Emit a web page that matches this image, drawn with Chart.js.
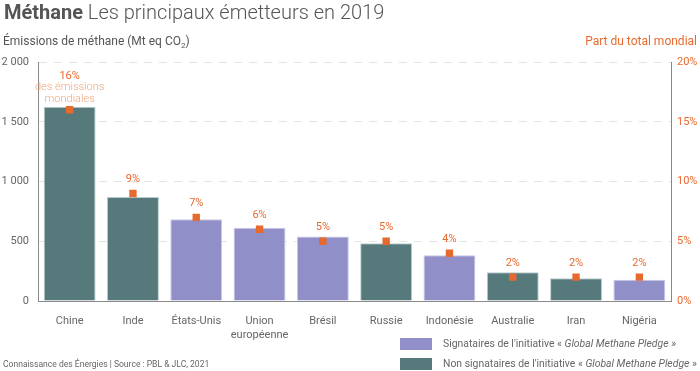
<!DOCTYPE html>
<html lang="fr">
<head>
<meta charset="utf-8">
<script src="https://cdn.jsdelivr.net/npm/chart.js@4.4.0/dist/chart.umd.min.js"></script>
<style>
  html, body { margin: 0; padding: 0; background: #fff; }
  body { font-family: Roboto, 'Noto Sans', sans-serif; color: #555; }
  #cadre { position: relative; width: 700px; height: 371px; overflow: hidden; }
  #graphique { position: absolute; left: 0; top: 0; }
  .texte { position: absolute; white-space: nowrap; }
  #titre { left: 4px; top: 0px; font-size: 20px; font-weight: 300; color: #555; }
  #titre b { font-weight: 700; }
  #titreY { left: 3px; top: 34px; font-size: 12px; color: #555; }
  #titreY2 { right: 3px; top: 34px; font-size: 12px; color: #e8692d; }
  #source { left: 3px; top: 358px; font-size: 9.5px; color: #666; transform: scaleX(0.9); transform-origin: left top; }
  .legende { position: absolute; left: 400px; font-size: 11px; color: #666; white-space: nowrap; }
  .legende span.carre { position: absolute; left: 0; top: 1px; width: 32px; height: 12px; }
  .legende span.lib { position: absolute; left: 43px; top: 0; transform: scaleX(0.945); transform-origin: left top; }
</style>
</head>
<body>
<div id="cadre">
  <canvas id="graphique" width="700" height="371"></canvas>
  <div id="titre" class="texte"><b>Méthane</b> Les principaux émetteurs en 2019</div>
  <div id="titreY" class="texte">Émissions de méthane (Mt eq CO<sub style="font-size:8px">2</sub>)</div>
  <div id="titreY2" class="texte">Part du total mondial</div>
  <div id="source" class="texte">Connaissance des Énergies | Source : PBL &amp; JLC, 2021</div>
  <div class="legende" style="top:337px"><span class="carre" style="background:#908fc7"></span><span class="lib">Signataires de l'initiative « <i>Global Methane Pledge</i> »</span></div>
  <div class="legende" style="top:357px"><span class="carre" style="background:#567a7c"></span><span class="lib">Non signataires de l'initiative « <i>Global Methane Pledge</i> »</span></div>
</div>
<script>
// Données
const pays = ['Chine', 'Inde', 'États-Unis', ['Union', 'européenne'], 'Brésil', 'Russie', 'Indonésie', 'Australie', 'Iran', 'Nigéria'];
const emissions = [1625, 870, 685, 612, 540, 484, 383, 241, 191, 178];
const partMondiale = [16, 9, 7, 6, 5, 5, 4, 2, 2, 2];
const signataire = [false, false, true, true, true, false, true, false, false, true];
const etiquetasY = ['0', '500', '1 000', '1 500', '2 000'];
const etiquetasY2 = ['0%', '5%', '10%', '15%', '20%'];

// Couleurs
const couleurSignataire = '#908fc7';
const couleurNonSignataire = '#567a7c';
const orange = '#e8692d';

const couleursBarres = signataire.map(s => s ? couleurSignataire : couleurNonSignataire);
const bordsBarres = signataire.map(s => s ? '#c9c8ea' : '#b9cccd');

// Etiquettes de pourcentage au-dessus des barres
const etiquettesPct = {
  id: 'etiquettesPct',
  afterDatasetsDraw(chart) {
    const ctx = chart.ctx;
    const barres = chart.getDatasetMeta(1).data;
    const points = chart.getDatasetMeta(0).data;
    ctx.save();
    ctx.textAlign = 'center';
    ctx.textBaseline = 'middle';
    barres.forEach((barre, i) => {
      const haut = Math.min(barre.y, points[i].y - 5);
      let y = haut - 9;
      if (i === 0) {
        ctx.fillStyle = '#f2a57a';
        ctx.font = '300 11px Roboto';
        ctx.fillText('mondiales', barre.x, y + 3);
        ctx.fillText('des émissions', barre.x, y - 8.5);
        y -= 20;
      }
      ctx.fillStyle = orange;
      ctx.font = '11px Roboto';
      ctx.fillText(partMondiale[i] + '%', barre.x, y);
    });
    ctx.restore();
  }
};

const graphique = new Chart(document.getElementById('graphique').getContext('2d'), {
  type: 'bar',
  data: {
    labels: pays,
    datasets: [
      {
        type: 'line',
        label: 'Part du total mondial',
        data: partMondiale,
        yAxisID: 'y2',
        showLine: false,
        pointStyle: 'rect',
        pointRadius: 5.2,
        pointBorderWidth: 0,
        pointBackgroundColor: orange,
        order: 0
      },
      {
        label: 'Émissions',
        data: emissions,
        yAxisID: 'y',
        backgroundColor: couleursBarres,
        borderColor: bordsBarres,
        borderWidth: 1,
        categoryPercentage: 1,
        barPercentage: 0.82,
        order: 1
      }
    ]
  },
  options: {
    responsive: false,
    animation: false,
    layout: { padding: { top: 62, left: 0, right: 0, bottom: 0 } },
    plugins: {
      legend: { display: false },
      tooltip: { enabled: false }
    },
    scales: {
      x: {
        grid: { display: false },
        border: { color: '#8a8a8a', width: 1 },
        ticks: { color: '#666', font: { family: 'Roboto', size: 11 }, padding: 6, maxRotation: 0, autoSkip: false },
        afterFit(scale) { scale.height = 70; }
      },
      y: {
        position: 'left',
        min: 0,
        max: 2000,
        ticks: {
          stepSize: 500,
          color: '#666',
          font: { family: 'Roboto', size: 11 },
          padding: 9,
          callback: (v, i) => etiquetasY[i]
        },
        grid: { color: '#e4e4e4', drawTicks: false, lineWidth: 1 },
        border: { color: '#8a8a8a', width: 1, dash: [8, 7] },
        afterFit(scale) { scale.width = 38; }
      },
      y2: {
        position: 'right',
        min: 0,
        max: 20,
        ticks: {
          stepSize: 5,
          color: orange,
          font: { family: 'Roboto', size: 11 },
          padding: 6,
          callback: (v, i) => etiquetasY2[i]
        },
        grid: { display: false, drawTicks: false },
        border: { color: orange, width: 1 },
        afterFit(scale) { scale.width = 29; }
      }
    }
  },
  plugins: [etiquettesPct]
});
</script>
</body>
</html>
